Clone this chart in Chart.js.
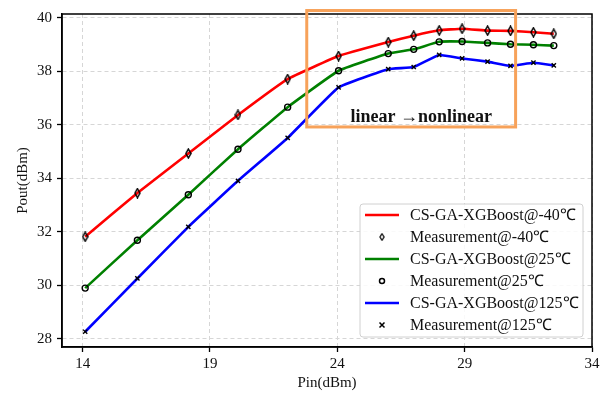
<!DOCTYPE html>
<html>
<head>
<meta charset="utf-8">
<script src="https://cdn.jsdelivr.net/npm/chart.js@4.4.0/dist/chart.umd.min.js"></script>
<style>
html, body { margin: 0; padding: 0; background: #fff; }
#wrap { width: 609px; height: 396px; }
</style>
</head>
<body>
<div id="wrap"><canvas id="chart" width="609" height="396"></canvas></div>
<script>
// ---- data ----
var pin = [14.1, 16.15, 18.15, 20.1, 22.05, 24.05, 26.0, 27.0, 28.0, 28.9, 29.9, 30.8, 31.7, 32.5];
var poutM40 = [31.82, 33.45, 34.93, 36.37, 37.71, 38.57, 39.09, 39.33, 39.53, 39.59, 39.52, 39.51, 39.46, 39.40];
var pout25  = [29.90, 31.69, 33.39, 35.09, 36.66, 38.02, 38.66, 38.82, 39.10, 39.11, 39.06, 39.01, 38.99, 38.96];
var pout125 = [28.27, 30.26, 32.19, 33.91, 35.51, 37.40, 38.08, 38.16, 38.61, 38.48, 38.36, 38.20, 38.32, 38.22];
var xTicks = [14, 19, 24, 29, 34];
var yTicks = [28, 30, 32, 34, 36, 38, 40];
var modelLabels = ['CS-GA-XGBoost@-40℃', 'CS-GA-XGBoost@25℃', 'CS-GA-XGBoost@125℃'];
var measLabels = ['Measurement@-40℃', 'Measurement@25℃', 'Measurement@125℃'];
var boxLabel = 'linear →nonlinear';

var serif = "'Liberation Serif', 'Times New Roman', serif";

function pts(ys) {
    return pin.map(function(x, i) { return {x: x, y: ys[i]}; });
}

// thin diamond marker (matplotlib 'd')
function makeDiamond() {
    var c = document.createElement('canvas');
    c.width = 7; c.height = 11;
    var g = c.getContext('2d');
    g.strokeStyle = '#000';
    g.lineWidth = 1.5;
    g.beginPath();
    g.moveTo(3.5, 1); g.lineTo(6, 5.5); g.lineTo(3.5, 10); g.lineTo(1, 5.5);
    g.closePath();
    g.stroke();
    return c;
}
var diamond = makeDiamond();

function lineSet(label, ys, color) {
    return {
        type: 'line', label: label, data: pts(ys),
        borderColor: color, backgroundColor: color, borderWidth: 2.6,
        pointRadius: 0, tension: 0.1, order: 2
    };
}
function markSet(label, ys, style, r) {
    return {
        type: 'scatter', label: label, data: pts(ys), showLine: false,
        pointStyle: style, pointRadius: r, borderColor: '#000',
        backgroundColor: 'rgba(0,0,0,0)', pointBorderWidth: 1.4, order: 1
    };
}

// frame, orange box, legend
var extras = {
    id: 'extras',
    afterDraw: function(chart) {
        var ctx = chart.ctx, a = chart.chartArea;
        var xs = chart.scales.x, ys = chart.scales.y;
        ctx.save();
        // top / right frame
        ctx.strokeStyle = '#000';
        ctx.lineWidth = 1.5;
        ctx.strokeRect(a.left, a.top, a.right - a.left, a.bottom - a.top);

        // orange region box
        var bx1 = xs.getPixelForValue(22.8), bx2 = xs.getPixelForValue(31.0);
        var by1 = ys.getPixelForValue(40.27), by2 = ys.getPixelForValue(35.92);
        ctx.strokeStyle = '#f7a25a';
        ctx.lineWidth = 3;
        ctx.strokeRect(bx1, by1, bx2 - bx1, by2 - by1);
        ctx.fillStyle = '#111';
        ctx.font = "bold 18px " + serif;
        ctx.textAlign = 'center';
        ctx.textBaseline = 'middle';
        ctx.fillText(boxLabel, (bx1 + bx2) / 2 + 10, by2 - 10);

        // legend
        var lx = 360, ly = 204, lw = 223, lh = 133;
        ctx.fillStyle = 'rgba(255,255,255,0.85)';
        ctx.strokeStyle = '#d0d0d0';
        ctx.lineWidth = 1;
        ctx.beginPath();
        ctx.roundRect(lx, ly, lw, lh, 3);
        ctx.fill();
        ctx.stroke();
        var ds = chart.data.datasets;
        ctx.font = "16px " + serif;
        ctx.textAlign = 'left';
        ctx.textBaseline = 'middle';
        for (var i = 0; i < ds.length; i++) {
            var cy = 215 + i * 22;
            var d = ds[i];
            if (d.type === 'line') {
                ctx.strokeStyle = d.borderColor;
                ctx.lineWidth = 2.6;
                ctx.beginPath();
                ctx.moveTo(365, cy); ctx.lineTo(399, cy);
                ctx.stroke();
            } else {
                ctx.strokeStyle = '#000';
                ctx.lineWidth = 1.5;
                if (d.pointStyle === 'circle') {
                    ctx.beginPath(); ctx.arc(382, cy, 2.5, 0, Math.PI * 2); ctx.stroke();
                } else if (d.pointStyle === 'crossRot') {
                    ctx.beginPath();
                    ctx.moveTo(379.5, cy - 2.5); ctx.lineTo(384.5, cy + 2.5);
                    ctx.moveTo(384.5, cy - 2.5); ctx.lineTo(379.5, cy + 2.5);
                    ctx.stroke();
                } else {
                    ctx.drawImage(diamond, 382 - 3, cy - 4, 6, 8);
                }
            }
            ctx.fillStyle = '#111';
            ctx.fillText(d.label, 410, cy + 1);
        }
        ctx.restore();
    }
};

new Chart(document.getElementById('chart'), {
    data: {
        datasets: [
            lineSet(modelLabels[0], poutM40, '#ff0000'),
            markSet(measLabels[0], poutM40, diamond, 5),
            lineSet(modelLabels[1], pout25, '#008000'),
            markSet(measLabels[1], pout25, 'circle', 3),
            lineSet(modelLabels[2], pout125, '#0000ff'),
            markSet(measLabels[2], pout125, 'crossRot', 3)
        ]
    },
    options: {
        responsive: false,
        animation: false,
        layout: { padding: { left: 0, top: 11, right: 17, bottom: 0 } },
        plugins: { legend: { display: false }, tooltip: { enabled: false } },
        scales: {
            x: {
                type: 'linear', min: 13.19, max: 34,
                afterBuildTicks: function(s) { s.ticks = xTicks.map(function(v) { return {value: v}; }); },
                afterFit: function(s) { s.height = 49; },
                ticks: { font: { family: serif, size: 15 }, color: '#111', padding: 3 },
                grid: { color: '#d6d6d6', lineWidth: 1, tickColor: '#000', tickLength: 5, tickWidth: 1.3 },
                border: { color: '#000', width: 1.5, dash: [4, 3] },
                title: { display: true, text: 'Pin(dBm)', font: { family: serif, size: 15 }, color: '#111', padding: { top: 0, bottom: 4 } }
            },
            y: {
                type: 'linear', min: 27.7, max: 40.14,
                afterBuildTicks: function(s) { s.ticks = yTicks.map(function(v) { return {value: v}; }); },
                afterFit: function(s) { s.width = 62; },
                ticks: { font: { family: serif, size: 15 }, color: '#111', padding: 5 },
                grid: { color: '#d6d6d6', lineWidth: 1, tickColor: '#000', tickLength: 5, tickWidth: 1.3 },
                border: { color: '#000', width: 1.5, dash: [4, 3] },
                title: { display: true, text: 'Pout(dBm)', font: { family: serif, size: 15 }, color: '#111', padding: { top: 14, bottom: 0 } }
            }
        }
    },
    plugins: [extras]
});
</script>
</body>
</html>
